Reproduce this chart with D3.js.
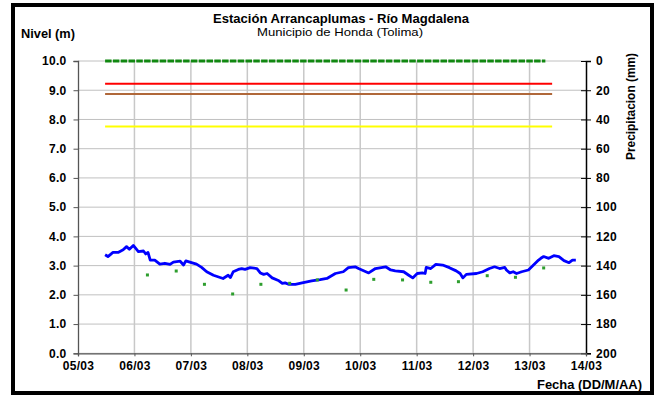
<!DOCTYPE html>
<html><head><meta charset="utf-8">
<script src="https://cdn.jsdelivr.net/npm/d3@7/dist/d3.min.js"></script>
<style>body{margin:0;background:#fff}svg{display:block;font-family:Arial,"Liberation Sans",sans-serif}</style>
</head><body><svg id="c" width="654" height="401"></svg>
<script>
// x values are months since 05/03
const xTickLabels = ["05/03","06/03","07/03","08/03","09/03","10/03","11/03","12/03","13/03","14/03"];
const levelTicks = [0,1,2,3,4,5,6,7,8,9,10];
const precipTicks = [0,20,40,60,80,100,120,140,160,180,200];

const levelX = [0.48,0.53,0.62,0.71,0.80,0.86,0.91,0.98,1.07,1.16,1.20,1.24,1.28,1.36,1.45,1.54,1.63,1.69,1.81,1.87,1.91,2.01,2.10,2.19,2.28,2.40,2.57,2.66,2.70,2.75,2.84,2.90,2.96,3.05,3.17,3.23,3.29,3.35,3.44,3.56,3.62,3.67,3.73,3.85,3.97,4.14,4.29,4.41,4.56,4.70,4.79,4.91,4.97,5.15,5.27,5.45,5.54,5.62,5.77,5.86,5.93,6.01,6.10,6.15,6.17,6.25,6.34,6.46,6.58,6.70,6.77,6.82,6.88,7.06,7.17,7.29,7.38,7.47,7.56,7.59,7.65,7.71,7.77,7.86,7.98,8.07,8.16,8.20,8.25];
const levelY = [3.37,3.31,3.45,3.45,3.54,3.65,3.56,3.69,3.48,3.50,3.40,3.45,3.19,3.19,3.05,3.08,3.04,3.12,3.15,3.02,3.16,3.10,3.05,2.94,2.79,2.67,2.56,2.67,2.59,2.79,2.87,2.90,2.87,2.93,2.90,2.75,2.70,2.73,2.58,2.48,2.39,2.41,2.36,2.36,2.41,2.48,2.52,2.56,2.73,2.79,2.93,2.96,2.90,2.75,2.90,2.96,2.85,2.82,2.79,2.67,2.58,2.73,2.75,2.73,2.94,2.90,3.04,3.02,2.93,2.82,2.73,2.58,2.70,2.73,2.79,2.90,2.96,2.90,2.94,2.85,2.75,2.79,2.73,2.79,2.85,3.02,3.19,3.25,3.31];
const levelX2 = [8.34,8.43,8.52,8.61,8.70,8.76,8.82];
const levelY2 = [3.25,3.34,3.31,3.17,3.10,3.19,3.19];

const precipX = [1.23,1.74,2.24,2.74,3.24,3.75,4.24,4.75,5.24,5.75,6.25,6.74,7.25,7.75,8.25];
const precipY = [146.4,143.7,152.8,159.4,152.8,152.1,149.8,156.7,149.4,149.8,151.4,151.0,146.9,148.0,141.6];

const zeroRainStart = 0.48, zeroRainEnd = 8.28;
const thresholdValues = [9.22, 8.87, 7.76];
const thresholdStart = 0.48, thresholdEnd = 8.40;
const thresholdColors = ["#ff0000","#b0683a","#ffff00"];

const svg = d3.select("#c");
const L=78, R=586, T=61, B=353.3;
const x = d3.scaleLinear().domain([0,9]).range([L,R]);
const y = d3.scaleLinear().domain([0,10]).range([B,T]);
const yp = d3.scaleLinear().domain([0,200]).range([T,B]);

// frame
svg.append("rect").attr("x",13).attr("y",5).attr("width",639).attr("height",388)
  .attr("fill","none").attr("stroke","#000").attr("stroke-width",4);

// grid
const g = svg.append("g");
levelTicks.forEach(v=>{
  g.append("line").attr("x1",L).attr("x2",R).attr("y1",y(v)).attr("y2",y(v)).attr("stroke","#c0c0c0").attr("stroke-width",1);
});
d3.range(1,9).forEach(i=>{
  g.append("line").attr("x1",x(i)).attr("x2",x(i)).attr("y1",T).attr("y2",B).attr("stroke","#c8c8c8").attr("stroke-width",1.5);
});

function styleText(sel){
  sel.selectAll("text").attr("font-size","12px").attr("font-weight","bold").attr("fill","#000")
    .attr("font-family","Arial, Liberation Sans").attr("letter-spacing","0.3px");
}
// axes
const fmt = d3.format(".1f");
const ax = svg.append("g").attr("transform",`translate(${L},0)`)
  .call(d3.axisLeft(y).tickValues(levelTicks).tickFormat(fmt).tickSize(4.5).tickPadding(7));
ax.select(".domain").attr("stroke","#555").attr("stroke-width",1.3);
ax.selectAll(".tick line").attr("stroke","#555");
styleText(ax);

const axr = svg.append("g").attr("transform",`translate(${R},0)`)
  .call(d3.axisRight(yp).tickValues(precipTicks).tickSize(5).tickPadding(5));
axr.select(".domain").attr("stroke","#000").attr("stroke-width",1.5);
axr.selectAll(".tick line").attr("x1",-5).attr("stroke","#000");
styleText(axr);

const axb = svg.append("g").attr("transform",`translate(0,${B})`)
  .call(d3.axisBottom(x).tickValues(d3.range(0,10)).tickFormat(i=>xTickLabels[i]).tickSize(3).tickPadding(5));
axb.select(".domain").attr("stroke","#555").attr("stroke-width",1.3);
axb.selectAll(".tick line").attr("stroke","#555");
styleText(axb);

// thresholds
thresholdValues.forEach((v,i)=>{
  svg.append("line").attr("x1",x(thresholdStart)).attr("x2",x(thresholdEnd)).attr("y1",y(v)).attr("y2",y(v))
    .attr("stroke",thresholdColors[i]).attr("stroke-width",2);
});

// zero precipitation
svg.append("line").attr("x1",x(zeroRainStart)).attr("x2",x(zeroRainEnd)).attr("y1",yp(0)).attr("y2",yp(0))
  .attr("stroke","#118811").attr("stroke-width",3).attr("stroke-dasharray","6.5,1.3");

// level line
const line = d3.line().x(d=>x(d[0])).y(d=>y(d[1]));
const pts = levelX.map((v,i)=>[v,levelY[i]]).concat(levelX2.map((v,i)=>[v,levelY2[i]]));
svg.append("path").datum(pts).attr("d",line).attr("fill","none").attr("stroke","#0000ff").attr("stroke-width",2.8).attr("stroke-linejoin","round");

// precipitation dots
svg.selectAll(".pd").data(precipX.map((v,i)=>[v,precipY[i]])).enter().append("rect")
  .attr("x",d=>x(d[0])-1.5).attr("y",d=>yp(d[1])-1.5).attr("width",3).attr("height",3).attr("fill","#2e9e2e");

// texts
svg.append("text").attr("x",213).attr("y",22.5).attr("font-size","12px").attr("font-weight","bold")
  .attr("textLength",256).attr("lengthAdjust","spacingAndGlyphs").text("Estación Arrancaplumas - Río Magdalena");
svg.append("text").attr("x",257).attr("y",35.5).attr("font-size","11.5px")
  .attr("textLength",166).attr("lengthAdjust","spacingAndGlyphs").text("Municipio de Honda (Tolima)");
svg.append("text").attr("x",21).attr("y",37.5).attr("font-size","12px").attr("font-weight","bold")
  .attr("textLength",54).attr("lengthAdjust","spacingAndGlyphs").text("Nivel (m)");
svg.append("text").attr("transform","translate(634.5,160) rotate(-90)").attr("font-size","12px").attr("font-weight","bold")
  .attr("textLength",107).attr("lengthAdjust","spacingAndGlyphs").text("Precipitacion (mm)");
svg.append("text").attr("x",537).attr("y",389).attr("font-size","12px").attr("font-weight","bold")
  .attr("textLength",105).attr("lengthAdjust","spacingAndGlyphs").text("Fecha (DD/M/AA)");
</script></body></html>
